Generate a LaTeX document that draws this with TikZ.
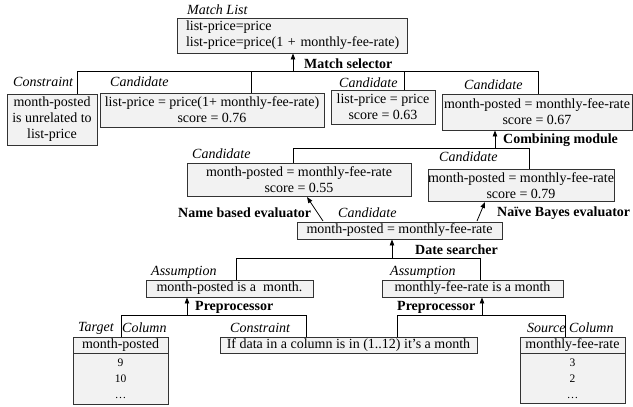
\documentclass[tikz,border=0pt]{standalone}
\usepackage{fontspec}
\setmainfont{Liberation Serif}
\usetikzlibrary{arrows.meta}
\definecolor{boxf}{HTML}{F2F2F2}
\definecolor{boxc}{HTML}{333333}
\begin{document}
\begin{tikzpicture}[x=1pt,y=-1pt,
  bx/.style={draw=boxc, fill=boxf, line width=0.9pt, inner sep=0pt, align=center,
             font=\fontsize{14}{16}\selectfont},
  wh/.style 2 args={minimum width=#1pt, minimum height=#2pt},
  lab/.style={font=\fontsize{14}{16}\selectfont\itshape, inner sep=0pt, anchor=west},
  blab/.style={font=\fontsize{14}{16}\selectfont\bfseries, inner sep=0pt, anchor=west},
  ln/.style={line width=0.8pt},
  arr/.style={ln, -{Triangle[length=6pt,width=4.5pt]}}]
\useasboundingbox (0,0) rectangle (633,407);

% ---------- boxes ----------
\node[bx, align=left, text width=212pt, inner xsep=9pt, minimum height=35pt] (matchlist) at (292,35.5)
  {\mbox{list-price=price}\\\mbox{list-price=price(1 + monthly-fee-rate)}};
\node[bx, wh={90}{51}] (constrT) at (52,119.5) {month-posted\\is unrelated to\\list-price};
\node[bx, wh={224}{34}] (cand076) at (212,110) {list-price = price(1+ monthly-fee-rate)\\score = 0.76};
\node[bx, wh={104}{34}] (cand063) at (383,107) {list-price = price\\score = 0.63};
\node[bx, wh={190}{36}] (cand067) at (537,112) {month-posted = monthly-fee-rate\\score = 0.67};
\node[bx, wh={224}{33}] (cand055) at (299,179.5) {month-posted = monthly-fee-rate\\score = 0.55};
\node[bx, wh={178}{32}] (cand079) at (521,185.5) {month-posted = monthly-fee-rate\\score = 0.79};
\node[bx, wh={205}{17}] (candmid) at (399.5,230.5) {month-posted = monthly-fee-rate};
\node[bx, wh={167}{17}] (assumL) at (229.5,288.5) {month-posted is a \ month.};
\node[bx, wh={181}{17}] (assumR) at (472.5,288.5) {monthly-fee-rate is a month};
\node[bx, wh={257}{16}] (constrB) at (348.5,345) {If data in a column is in (1..12) it’s a month};
\node[bx, wh={95}{16}] (tgthead) at (120.5,345) {month-posted};
\node[bx, wh={95}{51}, font=\fontsize{11.5}{16}\selectfont] (tgtbody) at (120.5,378.5) {9\\10\\…};
\node[bx, wh={105}{16}] (srchead) at (572.5,345.5) {monthly-fee-rate};
\node[bx, wh={105}{50}, font=\fontsize{11.5}{16}\selectfont] (srcbody) at (572.5,378.5) {3\\2\\…};

% ---------- italic labels ----------
\node[lab] (lml) at (187,10) {Match List};
\node[lab] (lct) at (13,82) {Constraint};
\node[lab] (lc1) at (110,82) {Candidate};
\node[lab] (lc2) at (339,83) {Candidate};
\node[lab] (lc3) at (464,85) {Candidate};
\node[lab] (lc4) at (192,154) {Candidate};
\node[lab] (lc5) at (439,157) {Candidate};
\node[lab] (lc6) at (338,213) {Candidate};
\node[lab] (la1) at (151,272) {Assumption};
\node[lab] (la2) at (390,272) {Assumption};
\node[lab] (ltg) at (78,328) {Target};
\node[lab] (ltc) at (122,328) {Column};
\node[lab] (lcb) at (230,328) {Constraint};
\node[lab] (lsr) at (527,328) {Source};
\node[lab] (lsc) at (569,328) {Column};

% ---------- bold labels ----------
\node[blab] (bms) at (304,64) {Match selector};
\node[blab] (bcm) at (503,140) {Combining module};
\node[blab] (bnb) at (178,213) {Name based evaluator};
\node[blab] (bnv) at (497,213) {Naïve Bayes evaluator};
\node[blab] (bds) at (415,250) {Date searcher};
\node[blab] (bp1) at (195,307) {Preprocessor};
\node[blab] (bp2) at (397,307) {Preprocessor};

% ---------- Match selector tree ----------
\coordinate (ms) at (293,71);
\coordinate (d1) at (77,71);
\coordinate (d2) at (251,71);
\coordinate (d3) at (404,71);
\coordinate (d4) at (538,71);
\draw[ln] (d1 |- constrT.north) -- (d1) -- (d4) -- (d4 |- cand067.north);
\draw[ln] (d2) -- (d2 |- cand076.north);
\draw[ln] (d3) -- (d3 |- cand063.north);
\draw[arr] (ms) -- (ms |- matchlist.south);

% ---------- Combining module tree ----------
\coordinate (cm) at (495,148);
\coordinate (e1) at (293,148);
\coordinate (e2) at (529,148);
\draw[ln] (e1 |- cand055.north) -- (e1) -- (e2) -- (e2 |- cand079.north);
\draw[arr] (cm) -- (cm |- cand067.south);

% ---------- evaluators ----------
\coordinate (n1) at (323,221);
\coordinate (n2) at (307,197);
\coordinate (b1) at (477,221);
\coordinate (b2) at (485,202);
\draw[arr] (n1) -- (n2);
\draw[arr] (b1) -- (b2);

% ---------- Date searcher tree ----------
\coordinate (ds) at (392,258);
\coordinate (f1) at (236,258);
\coordinate (f2) at (480,258);
\draw[ln] (f1 |- assumL.north) -- (f1) -- (f2) -- (f2 |- assumR.north);
\draw[arr] (ds) -- (ds |- candmid.south);

% ---------- Preprocessor left ----------
\coordinate (p1) at (187,315);
\coordinate (g1) at (121,315);
\coordinate (g2) at (306,315);
\draw[ln] (g1 |- tgthead.north) -- (g1) -- (g2) -- (g2 |- constrB.north);
\draw[arr] (p1) -- (p1 |- assumL.south);

% ---------- Preprocessor right ----------
\coordinate (p2) at (482,315);
\coordinate (h1) at (397,315);
\coordinate (h2) at (565,315);
\draw[ln] (h1 |- constrB.north) -- (h1) -- (h2) -- (h2 |- srchead.north);
\draw[arr] (p2) -- (p2 |- assumR.south);
\end{tikzpicture}
\end{document}
